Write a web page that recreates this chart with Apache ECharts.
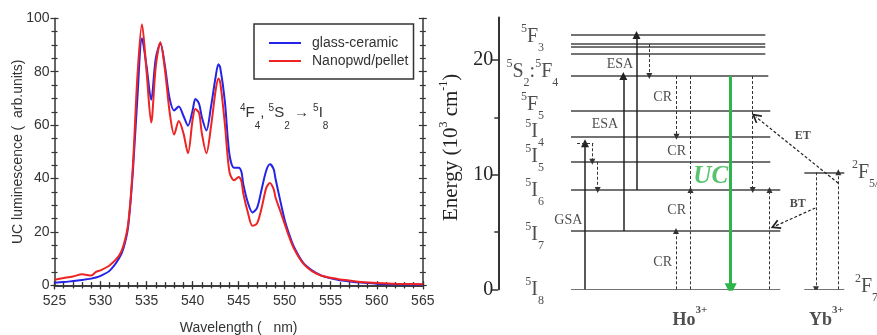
<!DOCTYPE html>
<html>
<head>
<meta charset="utf-8">
<script src="https://cdn.jsdelivr.net/npm/echarts@6/dist/echarts.min.js"></script>
<style>
  html, body { margin: 0; padding: 0; background: #fff; }
  #chart { width: 877px; height: 335px; }
</style>
</head>
<body>
<div id="chart"></div>
<script>
// ---- left panel: UC emission spectra (arb. units) ----
const wavelength = [525, 526, 527, 528, 529, 529.5, 530, 531, 532, 532.5,
  533, 533.5, 534, 534.5, 535, 535.5, 536, 536.5, 537, 537.5,
  538, 538.5, 539, 539.5, 540, 540.3, 540.7, 541, 541.5, 542,
  542.5, 542.8, 543, 543.5, 544, 544.5, 545, 545.3, 545.5, 546,
  546.5, 547, 547.5, 548, 548.4, 548.8, 549, 549.5, 550, 550.5,
  551, 552, 553, 554, 555, 556, 557, 558, 560, 562, 565];
const glassCeramic = [1.0, 1.2, 1.6, 2.0, 2.5, 2.9, 3.5, 5.5, 10, 14,
  22, 42, 70, 92.5, 82, 69.5, 85, 90.5, 82, 70,
  65.5, 67, 63.5, 59.8, 65.5, 69.8, 68, 63, 58, 67,
  78, 82.8, 81.5, 69, 49, 44, 44, 42.5, 38, 31,
  27.3, 29, 36, 43, 45.3, 43.5, 40, 32, 24.5, 19,
  14.5, 8.5, 5.5, 3.6, 2.6, 1.9, 1.5, 1.1, 0.6, 0.4, 0.3];
const nanoPellet = [2.1, 2.7, 3.3, 4.1, 3.7, 5.0, 5.6, 7.5, 11, 15,
  23, 44, 78, 97.8, 80, 61, 82, 91, 80.5, 65,
  56.5, 61.5, 57, 49.5, 62, 66, 64.5, 57, 49.5, 59.5,
  73, 77.5, 76, 60.5, 42.5, 39.3, 40.6, 39, 34.5, 27.3,
  22.3, 23.2, 29, 36.5, 38.3, 36, 33, 28, 23, 18,
  13.8, 8.2, 5.2, 3.6, 2.8, 2.2, 1.8, 1.3, 0.9, 0.6, 0.4];

// ---- right panel: Ho3+ / Yb3+ energy levels (10^3 cm^-1) ----
const hoLevelE = [0, 5.08, 8.66, 11.12, 13.3, 15.57, 18.6, 20.54, 21.12, 21.38, 22.18];
const hoLevelEnd = [282, 282, 282, 272, 272, 272, 270, 267, 267, 267, 267];
const ybLevelE = [0, 10.2];
const hoNames = ['5I8', '5I7', '5I6', '5I5', '5I4', '5F5', '5S2:5F4', '5F3'];
const hoNameE = [-0.06, 4.73, 8.57, 11.53, 13.71, 16.07, 18.95, 22.0];
const ybNames = ['2F7/2', '2F5/2'];
const ybNameE = [0.2, 10.12];
const gsaTop = 12.73;

// transitions: [column, E from, E to]
const solidArrows = [[86.7, 0, gsaTop], [125, 5.08, 18.6], [138.2, 8.66, 22.18]];
const dashedArrows = [
  [94, gsaTop, 11.12], [99.4, 11.12, 8.66], [151, 21.38, 18.6],
  [178.2, 18.6, 13.3], [177.7, 0, 5.08], [192.2, 0, 8.66],
  [254.4, 18.6, 8.66], [271.2, 0, 8.66], [317.7, 10.2, 0], [340, 0, 10.2]
];
const ucArrow = [232.4, 18.6, 0];
// energy transfer Yb->Ho (ET) and back transfer (BT): [[x, E], [x, E]]
const transfers = [[[340, 9.25], [257.4, 15.05]], [[317, 7.09], [277, 5.52]]];

const ink = '#333';
const sans = 'Liberation Sans, Arial, sans-serif';
const serif = 'Liberation Serif, Times New Roman, serif';
const hoStart = 72.7;
const ybSpan = [306, 346];

function term(s) {
  return s.split(':').map(p => `{sp|${p[0]}}{m|${p[1]}}{sb|${p.slice(2)}}`).join('{m|:}');
}

const termRich = {
  m: { fontFamily: serif, fontSize: 20, color: '#222' },
  sp: { fontFamily: serif, fontSize: 12, color: '#222', padding: [0, 0, 16, 0] },
  sb: { fontFamily: serif, fontSize: 12, color: '#222', padding: [22, 0, 0, 0] }
};

function frameAxis(extra) {
  return Object.assign({
    type: 'value', splitLine: { show: false },
    axisLine: { show: false, lineStyle: { color: ink, width: 1.5 } },
    axisLabel: { show: false },
    axisTick: { show: true, length: 4, lineStyle: { color: ink, width: 1.2 } },
    minorTick: { show: true, length: 3, lineStyle: { color: ink, width: 1.2 } }
  }, extra);
}

const xw = { gridIndex: 0, min: 525, max: 565, interval: 5 };
const yl = { gridIndex: 0, min: 0, max: 100, interval: 20 };
const xMinor = { show: true, splitNumber: 5, length: 3, lineStyle: { color: ink, width: 1.2 } };
const yMinor = { show: true, splitNumber: 4, length: 3, lineStyle: { color: ink, width: 1.2 } };
const innerTick = { inside: true, length: 4, lineStyle: { color: ink, width: 1.2 } };
const frameLine = { show: true, lineStyle: { color: ink, width: 1.5 } };

const chart = echarts.init(document.getElementById('chart'));

chart.setOption({
  animation: false,
  textStyle: { fontFamily: sans },
  grid: [
    { left: 54.5, top: 18.3, width: 368.3, height: 267, outerBoundsMode: 'none' },
    { left: 498.3, top: 17.5, width: 378.7, height: 271.8, outerBoundsMode: 'none' }
  ],
  legend: {
    data: ['glass-ceramic', 'Nanopwd/pellet'],
    orient: 'vertical', left: 254, top: 24,
    padding: [12, 5, 11, 14], itemWidth: 32, itemHeight: 14, itemGap: 4,
    borderColor: ink, borderWidth: 1.5,
    itemStyle: { opacity: 0 },
    textStyle: { fontSize: 14, fontFamily: sans, color: ink, padding: [0, 0, 0, 6] }
  },
  xAxis: [
    frameAxis(Object.assign({}, xw, {
      position: 'bottom', axisLine: frameLine,
      axisLabel: { show: true, fontSize: 14, color: ink, margin: 9 },
      minorTick: xMinor,
      name: 'Wavelength (   nm)', nameLocation: 'middle', nameGap: 36, nameMoveOverlap: false,
      nameTextStyle: { fontSize: 14, color: ink }
    })),
    frameAxis(Object.assign({}, xw, { position: 'bottom', axisTick: innerTick, minorTick: xMinor })),
    frameAxis(Object.assign({}, xw, { position: 'top', axisLine: frameLine, minorTick: xMinor })),
    frameAxis(Object.assign({}, xw, { position: 'top', axisTick: innerTick, minorTick: xMinor })),
    { gridIndex: 1, type: 'value', min: 0, max: 378.7, show: false }
  ],
  yAxis: [
    frameAxis(Object.assign({}, yl, {
      position: 'left', axisLine: frameLine,
      axisLabel: { show: true, fontSize: 14, color: ink, margin: 5 },
      minorTick: yMinor,
      name: 'UC luminescence (  arb.units)', nameLocation: 'middle', nameGap: 29, nameMoveOverlap: false,
      nameTextStyle: { fontSize: 14, color: ink }
    })),
    frameAxis(Object.assign({}, yl, { position: 'left', axisTick: innerTick, minorTick: yMinor })),
    frameAxis(Object.assign({}, yl, { position: 'right', axisLine: frameLine, minorTick: yMinor })),
    frameAxis(Object.assign({}, yl, { position: 'right', axisTick: innerTick, minorTick: yMinor })),
    {
      gridIndex: 1, type: 'value', position: 'left', min: 0, max: 23.7, interval: 10,
      splitLine: { show: false },
      axisLine: { show: true, lineStyle: { color: ink, width: 2 } },
      axisTick: { show: true, length: 7, customValues: [0, 10, 20], lineStyle: { color: ink, width: 1.5 } },
      minorTick: { show: true, splitNumber: 2, length: 4, lineStyle: { color: ink, width: 1.5 } },
      axisLabel: {
        fontFamily: serif, fontSize: 20, color: '#222', margin: 5,
        customValues: [0, 10, 20],
        formatter: v => (v % 10 === 0 ? String(v) : '')
      },
      name: 'Energy (10{s|3} cm{s|-1})', nameLocation: 'middle', nameGap: 34, nameMoveOverlap: false,
      nameTextStyle: {
        fontFamily: serif, fontSize: 21, color: '#222', padding: [0, 0, 0, 12],
        rich: { s: { fontFamily: serif, fontSize: 12, color: '#222', padding: [0, 0, 14, 0] } }
      }
    }
  ],
  graphic: [{
    type: 'text', x: 240, y: 113,
    style: {
      text: '{sp|4}{m|F}{sb|4}{m|, }{sp|5}{m|S}{sb|2}{m| \u2192 }{sp|5}{m|I}{sb|8}',
      align: 'left', verticalAlign: 'middle',
      rich: {
        m: { fontFamily: sans, fontSize: 15, fill: '#333' },
        sp: { fontFamily: sans, fontSize: 10, fill: '#333', padding: [0, 0, 10, 0] },
        sb: { fontFamily: sans, fontSize: 10, fill: '#333', padding: [26, 0, 0, 0] }
      }
    }
  }],
  series: [
    {
      name: 'glass-ceramic', type: 'line', xAxisIndex: 0, yAxisIndex: 0,
      data: wavelength.map((w, i) => [w, glassCeramic[i]]),
      symbol: 'none', smooth: 0.3, color: '#2424e6',
      lineStyle: { width: 2, color: '#2424e6' }
    },
    {
      name: 'Nanopwd/pellet', type: 'line', xAxisIndex: 0, yAxisIndex: 0,
      data: wavelength.map((w, i) => [w, nanoPellet[i]]),
      symbol: 'none', smooth: 0.3, color: '#ee2424',
      lineStyle: { width: 2, color: '#ee2424' }
    },
    {
      // energy levels
      type: 'lines', coordinateSystem: 'cartesian2d', xAxisIndex: 4, yAxisIndex: 4,
      symbol: 'none', lineStyle: { color: '#444', width: 1.5, opacity: 1 },
      data: hoLevelE.map((e, i) => ({ coords: [[hoStart, e], [hoLevelEnd[i], e]] }))
        .concat(ybLevelE.map(e => ({ coords: [[ybSpan[0], e], [ybSpan[1], e]] })))
    },
    {
      // absorption arrows (GSA / ESA)
      type: 'lines', coordinateSystem: 'cartesian2d', xAxisIndex: 4, yAxisIndex: 4,
      symbol: ['none', 'triangle'], symbolSize: 8,
      lineStyle: { color: '#222', width: 1.5, opacity: 1 },
      data: solidArrows.map(a => ({ coords: [[a[0], a[1]], [a[0], a[2]]] }))
    },
    {
      // relaxation / cross relaxation
      type: 'lines', coordinateSystem: 'cartesian2d', xAxisIndex: 4, yAxisIndex: 4,
      symbol: ['none', 'triangle'], symbolSize: 6,
      lineStyle: { color: '#333', width: 1, type: [3, 2], opacity: 1 },
      data: dashedArrows.map(a => ({ coords: [[a[0], a[1]], [a[0], a[2]]] }))
    },
    {
      type: 'lines', coordinateSystem: 'cartesian2d', xAxisIndex: 4, yAxisIndex: 4,
      symbol: 'none',
      lineStyle: { color: '#333', width: 1, type: [3, 2], opacity: 1 },
      data: [
        { coords: [[78.7, gsaTop], [95, gsaTop]] },
        { coords: [[192.2, 18.6], [192.2, 8.66]] }
      ]
    },
    {
      // ET / BT
      type: 'lines', coordinateSystem: 'cartesian2d', xAxisIndex: 4, yAxisIndex: 4,
      symbol: ['none', 'path://M5,0 L10,9 L8.6,10 L5,3.6 L1.4,10 L0,9 Z'], symbolSize: 10,
      lineStyle: { color: '#222', width: 1.2, type: [3, 2], opacity: 1 },
      data: transfers.map(t => ({ coords: t }))
    },
    {
      // green UC emission
      type: 'lines', coordinateSystem: 'cartesian2d', xAxisIndex: 4, yAxisIndex: 4,
      symbol: ['none', 'triangle'], symbolSize: 12,
      lineStyle: { color: '#2db44a', width: 3, opacity: 1 },
      data: [{ coords: [[ucArrow[0], ucArrow[1]], [ucArrow[0], ucArrow[2]]] }]
    },
    {
      // level names, right aligned next to the Ho column
      type: 'scatter', xAxisIndex: 4, yAxisIndex: 4, symbolSize: 0, clip: false, silent: true,
      label: { show: true, position: 'left', distance: 0, rich: termRich },
      data: hoNames.map((n, i) => ({
        value: [n.indexOf(':') > 0 ? 60 : 45.7, hoNameE[i]],
        label: { formatter: term(n) }
      }))
    },
    {
      type: 'scatter', xAxisIndex: 4, yAxisIndex: 4, symbolSize: 0, clip: false, silent: true,
      label: { show: true, position: 'right', distance: 0, rich: termRich },
      data: ybNames.map((n, i) => ({
        value: [i === 0 ? 356.7 : 353.7, ybNameE[i]],
        label: { formatter: term(n) }
      }))
    },
    {
      // process labels
      type: 'scatter', xAxisIndex: 4, yAxisIndex: 4, symbolSize: 0, clip: false, silent: true,
      label: {
        show: true, position: 'inside', formatter: '{b}',
        fontFamily: serif, fontSize: 14, color: '#222',
        rich: {
          b: { fontFamily: serif, fontSize: 18, fontWeight: 'bold', color: '#222' },
          bs: { fontFamily: serif, fontSize: 11, fontWeight: 'bold', color: '#222', padding: [0, 0, 20, 0] }
        }
      },
      data: [
        { name: 'ESA', value: [121.7, 19.64] },
        { name: 'ESA', value: [106.7, 14.41] },
        { name: 'CR', value: [164.4, 16.7] },
        { name: 'CR', value: [178.4, 12.0] },
        { name: 'CR', value: [178.4, 6.85] },
        { name: 'CR', value: [164.4, 2.35] },
        { name: 'GSA', value: [70, 6.04] },
        { name: 'UC', value: [212.4, 9.82], label: { fontSize: 25, fontWeight: 'bold', fontStyle: 'italic', color: '#2db44a' } },
        { name: 'ET', value: [304.4, 13.37], label: { fontSize: 12, fontWeight: 'bold' } },
        { name: 'BT', value: [299.4, 7.44], label: { fontSize: 12, fontWeight: 'bold' } },
        { name: 'Ho', value: [191.7, -2.68], label: { formatter: '{b|Ho}{bs|3+}' } },
        { name: 'Yb', value: [328.2, -2.68], label: { formatter: '{b|Yb}{bs|3+}' } }
      ]
    }
  ]
});
</script>
</body>
</html>
